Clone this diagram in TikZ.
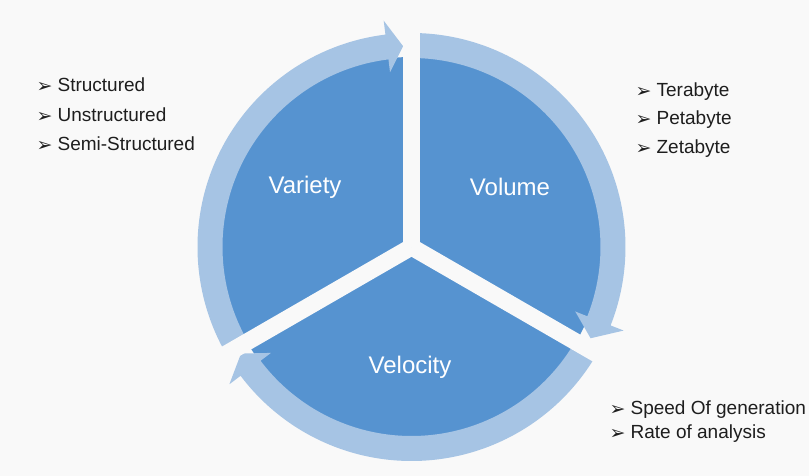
\documentclass[tikz,border=0pt]{standalone}
\usepackage{fontspec}
\setmainfont{Liberation Sans}
\newfontfamily\symfont{DejaVu Sans}

\definecolor{pieblue}{RGB}{86,147,208}
\definecolor{ringblue}{RGB}{166,196,228}
\definecolor{bgcol}{RGB}{249,249,249}
\definecolor{txtcol}{RGB}{30,30,30}

% bullet in front of each list line
\newcommand{\bul}{\raisebox{-1pt}{\symfont\fontsize{19}{19}\selectfont ➢}\hspace{5pt}}
% ring arrow: tail angle, base of head, tip of head
\newcommand{\ringarrow}[3]{%
    \fill[ring] (#1:214) arc[start angle=#1,end angle=#2,radius=214]
        -- (#2:228) -- (#3:201) -- (#2:176) -- (#2:189)
        arc[start angle=#2,end angle=#1,radius=189] -- cycle;}

\begin{document}
\begin{tikzpicture}[x=1pt,y=1pt,
    sector/.style={text=white,font=\fontsize{24}{24}\selectfont},
    item/.style={anchor=west,text=txtcol,inner sep=0pt,font=\fontsize{19}{19}\selectfont},
    ring/.style={fill=ringblue},
    gap/.style={draw=bgcol,line width=17pt,line cap=butt}]
    % Define the bounding box, centre of the cycle at the origin
    \fill[bgcol] (-411.5,-229) rectangle (397.5,247);
    \useasboundingbox (-411.5,-229) rectangle (397.5,247);
    \coordinate (centre) at (0,0);

    % Draw the pie
    \fill[pieblue] (centre) circle (190);

    % Draw the three ring arrows, clockwise
    \ringarrow{210}{97}{92.4}
    \ringarrow{90}{-21.5}{-27}
    \ringarrow{-30}{-143}{-148}

    % Cut the pie and the ring into three parts
    \draw[gap] (centre) -- (90:240);
    \draw[gap] (centre) -- (210:240);
    \draw[gap] (centre) -- (330:240);

    % Add labels for each part
    \node[sector] (variety) at (-106.5,60) {Variety};
    \node[sector] (volume) at (98.5,60) {Volume};
    \node[sector] (velocity) at (-1.5,-120) {Velocity};

    % Lists beside the cycle
    \node[item] (structured) at (-375,162) {\bul Structured};
    \node[item] (unstructured) at (-375,132) {\bul Unstructured};
    \node[item] (semi) at (-375,103) {\bul Semi-Structured};

    \node[item] (tera) at (224,155) {\bul Terabyte};
    \node[item] (peta) at (224,127) {\bul Petabyte};
    \node[item] (zeta) at (224,98) {\bul Zetabyte};

    \node[item] (speed) at (198,-163) {\bul Speed Of generation};
    \node[item] (rate) at (198,-187) {\bul Rate of analysis};
\end{tikzpicture}
\end{document}
